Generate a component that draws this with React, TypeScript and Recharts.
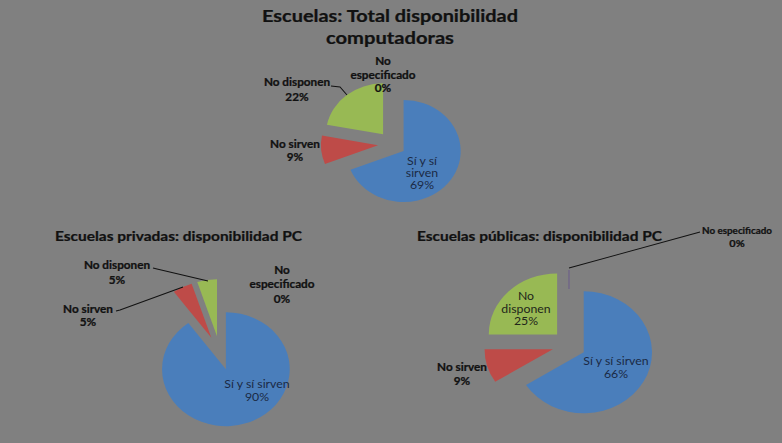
import React from "react";
import { PieChart, Pie, Cell } from "recharts";

// categories (order as plotted, clockwise from 12 o'clock)
const categories = ["Sí y sí sirven", "No sirven", "No disponen", "No especificado"];

// series values (%)
const totalValues = [69, 9, 22, 0];
const privadasValues = [90, 5, 5, 0];
const publicasValues = [66, 9, 25, 0];

const COLORS = ["#4A7EBB", "#BE4B48", "#98B954", "#8064A2"];

const STRETCH = 1.12; // the original picture is stretched horizontally
const W = 782;
const H = 443;
const IW = W / STRETCH;
const FONT = "Lato, 'Open Sans', sans-serif";

const sx = (x: number) => x / STRETCH;

type PieLayout = { cx: number; cy: number; r: number; explode: number };

const TOTAL_LAYOUT: PieLayout = { cx: sx(392), cy: 144, r: 51, explode: 12.5 };
const PRIV_LAYOUT: PieLayout = { cx: sx(220), cy: 353, r: 57, explode: 17 };
const PUB_LAYOUT: PieLayout = { cx: sx(569), cy: 345, r: 61, explode: 15 };

function ExplodedPie({ values, layout, id }: { values: number[]; layout: PieLayout; id: string }) {
  const data = categories.map((name, i) => ({ name, value: values[i] }));
  const total = values.reduce((a, b) => a + b, 0);
  let cum = 0;
  return (
    <>
      {values.map((v, i) => {
        const mid = ((cum + v / 2) / total) * 2 * Math.PI;
        cum += v;
        if (v === 0) return null;
        const cx = layout.cx + layout.explode * Math.sin(mid);
        const cy = layout.cy - layout.explode * Math.cos(mid);
        return (
          <Pie
            key={`${id}-${i}`}
            data={data}
            dataKey="value"
            nameKey="name"
            cx={cx}
            cy={cy}
            outerRadius={layout.r}
            startAngle={90}
            endAngle={-270}
            stroke="none"
            isAnimationActive={false}
            label={false}
            labelLine={false}
          >
            {data.map((_, j) => (
              <Cell key={j} fill={j === i ? COLORS[i] : "transparent"} stroke="none" />
            ))}
          </Pie>
        );
      })}
    </>
  );
}

function Lines({ x, ys, lines, size = 10.5, bold = true, color = "#111", widths }: {
  x: number; ys: number[]; lines: string[]; size?: number; bold?: boolean; color?: string; widths?: (number | null)[];
}) {
  return (
    <text
      textAnchor="middle"
      fontFamily={FONT}
      fontSize={size}
      fontWeight={bold ? 700 : 400}
      fill={color}
      stroke={bold ? color : "none"}
      strokeWidth={bold ? 0.25 : 0}
    >
      {lines.map((l, i) => {
        const w = widths ? widths[i] : null;
        return (
          <tspan
            key={i}
            x={sx(x)}
            y={ys[i] + size * 0.36}
            {...(w ? { textLength: sx(w), lengthAdjust: "spacingAndGlyphs" } : {})}
          >
            {l}
          </tspan>
        );
      })}
    </text>
  );
}

function Leader({ pts, color = "#111" }: { pts: number[][]; color?: string }) {
  return (
    <polyline
      points={pts.map(([x, y]) => `${sx(x)},${y}`).join(" ")}
      fill="none"
      stroke={color}
      strokeWidth={0.9}
    />
  );
}

const INSIDE = "#1B2A45";

export default function App() {
  return (
    <div
      style={{
        position: "absolute",
        left: 0,
        top: 0,
        width: W,
        height: H,
        background: "#808080",
        overflow: "hidden",
      }}
    >
      <div
        style={{
          position: "relative",
          transform: `scaleX(${STRETCH})`,
          transformOrigin: "0 0",
          width: IW,
          height: H,
        }}
      >
        <PieChart width={IW} height={H} margin={{ top: 0, right: 0, bottom: 0, left: 0 }}>
          <ExplodedPie values={totalValues} layout={TOTAL_LAYOUT} id="total" />
          <ExplodedPie values={privadasValues} layout={PRIV_LAYOUT} id="priv" />
          <ExplodedPie values={publicasValues} layout={PUB_LAYOUT} id="pub" />
        </PieChart>

        {/* titles, data labels and leader lines drawn above the pies */}
        <svg
          width={IW}
          height={H}
          style={{ position: "absolute", left: 0, top: 0, pointerEvents: "none" }}
        >
          <Lines
            x={390}
            ys={[16, 38]}
            lines={["Escuelas: Total disponibilidad", "computadoras"]}
            size={17}
            widths={[256, 128]}
          />
          <Lines x={178.5} ys={[236]} lines={["Escuelas privadas: disponibilidad PC"]} size={13.5} widths={[247]} />
          <Lines x={539.5} ys={[236]} lines={["Escuelas públicas: disponibilidad PC"]} size={13.5} widths={[245]} />

          {/* total */}
          <Lines x={383} ys={[61, 75, 88]} lines={["No", "especificado", "0%"]} />
          <Lines x={297} ys={[82, 97]} lines={["No disponen", "22%"]} />
          <Leader pts={[[331, 86], [340, 87], [347, 95]]} />
          <Lines x={295} ys={[144, 157]} lines={["No sirven", "9%"]} />
          <Lines x={422} ys={[161, 173, 185]} lines={["Sí y sí", "sirven", "69%"]} size={11} bold={false} color={INSIDE} />

          {/* privadas */}
          <Lines x={117} ys={[265, 280]} lines={["No disponen", "5%"]} />
          <Leader pts={[[153, 268], [157, 269], [208, 281]]} />
          <Lines x={88} ys={[309, 322]} lines={["No sirven", "5%"]} />
          <Leader pts={[[116, 311], [120, 310], [183, 287]]} />
          <Lines x={282} ys={[270, 284, 299]} lines={["No", "especificado", "0%"]} />
          <Lines x={257} ys={[384, 397]} lines={["Sí y sí sirven", "90%"]} size={11} bold={false} color={INSIDE} />

          {/* publicas */}
          <Lines x={737} ys={[230, 243]} lines={["No especificado", "0%"]} size={9.8} widths={[70, null]} />
          <Leader pts={[[700, 232], [569, 268]]} />
          <Leader pts={[[569, 270], [569, 289]]} color="#6A5A8A" />
          <Lines x={526} ys={[296, 309, 321]} lines={["No", "disponen", "25%"]} size={11} bold={false} color="#22261A" />
          <Lines x={462} ys={[367, 381]} lines={["No sirven", "9%"]} />
          <Lines x={616} ys={[361, 374]} lines={["Sí y sí sirven", "66%"]} size={11} bold={false} color={INSIDE} />
        </svg>
      </div>
    </div>
  );
}
